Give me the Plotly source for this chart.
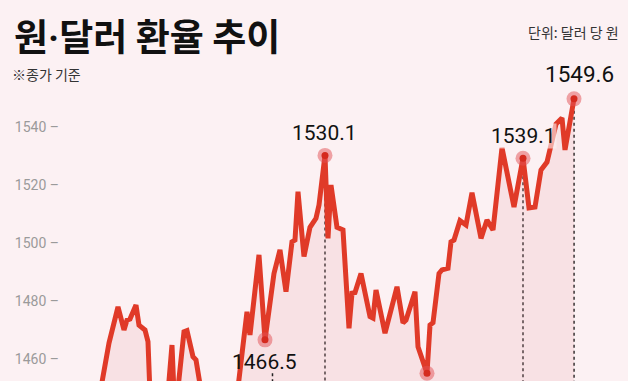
import plotly.graph_objects as go

# trading-day index and closing rate (KRW per USD)
days = [0, 3, 6, 8, 9, 10, 12, 13, 15, 16,
        17, 22, 24, 25, 28, 29, 31, 32, 34, 36,
        43, 46, 49, 50, 53, 55, 58, 60, 62, 64,
        65, 66, 68, 70, 72, 73, 75, 76, 77, 79,
        81, 83, 84, 85, 87, 90, 91, 92, 95, 99,
        101, 102, 105, 106, 109, 110, 111, 113, 114, 116,
        117, 118, 120, 122, 124, 127, 129, 131, 134, 138,
        141, 143, 145, 147, 149, 152, 154, 155, 158]
rates = [1448.0, 1465.4, 1477.9, 1469.9, 1473.3, 1473.7, 1478.5, 1471.6, 1469.9, 1465.9,
         1439.0, 1440.0, 1464.7, 1440.0, 1469.3, 1469.7, 1460.7, 1459.6, 1447.0, 1440.0,
         1445.0, 1450.0, 1476.2, 1468.2, 1495.8, 1466.5, 1489.4, 1497.5, 1483.1, 1500.3,
         1500.9, 1517.6, 1495.2, 1505.3, 1508.4, 1513.0, 1530.1, 1501.5, 1519.9, 1505.3,
         1504.4, 1470.5, 1482.6, 1482.8, 1489.4, 1474.5, 1474.0, 1483.7, 1468.8, 1484.8,
         1472.4, 1473.3, 1483.1, 1464.1, 1455.0, 1471.6, 1472.4, 1489.4, 1490.6, 1491.2,
         1500.3, 1500.9, 1507.6, 1506.1, 1517.2, 1501.5, 1507.8, 1504.4, 1532.7, 1512.3,
         1529.1, 1512.0, 1512.3, 1525.1, 1527.8, 1540.9, 1543.0, 1532.0, 1549.6]

# highlighted points
mark_days = [55, 75, 109, 141, 158]
label_days = [55, 75, 141, 158]
label_texts = ["1466.5", "1530.1", "1539.1", "1549.6"]
label_below = [True, False, False, False]
label_sizes = [21, 21, 21, 22.5]

tick_vals = [1460, 1480, 1500, 1520, 1540]
tick_text = ["1460 –", "1480 –", "1500 –", "1520 –", "1540 –"]

title_parts = ["원", "·", "달러 환율 추이"]
subtitle_text = "※종가 기준"
unit_text = "단위: 달러 당 원"

BG = "#fcf1f3"
RED = "#e03a28"
NUM = "Roboto, sans-serif"
KR = "Noto Sans CJK KR, sans-serif"

W, H = 628, 381
Y_RANGE = [1452.31, 1583.69]
X_RANGE = [-13.33, 176]
X_LEFT = 60

val = dict(zip(days, rates))

fig = go.Figure()
fig.add_trace(go.Scatter(
    x=days, y=rates, mode="lines",
    line=dict(color=RED, width=5),
    fill="tozeroy", fillcolor="rgba(238,170,178,0.22)",
    hoverinfo="skip", showlegend=False,
))
fig.add_trace(go.Scatter(
    x=mark_days, y=[val[d] for d in mark_days], mode="markers",
    marker=dict(size=15, color="rgba(226,80,84,0.5)", line=dict(width=0)),
    hoverinfo="skip", showlegend=False,
))
fig.add_trace(go.Scatter(
    x=mark_days, y=[val[d] for d in mark_days], mode="markers",
    marker=dict(size=7, color="#d52a1f", line=dict(width=0)),
    hoverinfo="skip", showlegend=False,
))

annotations = []
shapes = []
for d, t, below, sz in zip(label_days, label_texts, label_below, label_sizes):
    v = val[d]
    annotations.append(dict(
        x=d, y=v, xref="x", yref="y", text=t, showarrow=False,
        font=dict(family=NUM, size=sz, color="#111"),
        xanchor="center", yanchor="middle",
        yshift=-22 if below else (25 if sz > 21 else 22),
        xshift=5 if sz > 21 else 0,
        bgcolor="rgba(252,241,243,0.6)" if t == "1539.1" else None,
        borderpad=0,
    ))
    if below:
        shapes.append(dict(type="line", xref="x", yref="y",
                           x0=d + 2.5, x1=d + 2.5, y0=v - 11.5, y1=Y_RANGE[0],
                           line=dict(color="#222", width=1.5, dash="dot")))
    else:
        shapes.append(dict(type="line", xref="x", yref="y",
                           x0=d, x1=d, y0=v, y1=Y_RANGE[0],
                           line=dict(color="#222", width=1.5, dash="dot"), layer="below"))

title_html = (f'<b>{title_parts[0]}<span style="font-family:Roboto">{title_parts[1]}</span>'
              f'{title_parts[2]}</b>')
annotations += [
    dict(x=12 / W, y=1 - 6 / H, xref="paper", yref="paper", text=title_html,
         showarrow=False, xanchor="left", yanchor="top",
         font=dict(family=KR, size=37, color="#111")),
    dict(x=10 / W, y=1 - 62 / H, xref="paper", yref="paper", text=subtitle_text,
         showarrow=False, xanchor="left", yanchor="top",
         font=dict(family=KR, size=14, color="#333")),
    dict(x=621 / W, y=1 - 20 / H, xref="paper", yref="paper", text=unit_text,
         showarrow=False, xanchor="right", yanchor="top",
         font=dict(family=KR, size=14, color="#333")),
]

fig.update_layout(
    width=W, height=H,
    margin=dict(l=0, r=0, t=0, b=0),
    paper_bgcolor=BG, plot_bgcolor=BG,
    annotations=annotations, shapes=shapes,
    xaxis=dict(domain=[X_LEFT / W, 1], range=X_RANGE, visible=False, fixedrange=True),
    yaxis=dict(range=Y_RANGE, tickvals=tick_vals, ticktext=tick_text,
               ticks="", ticklabelstandoff=0,
               tickfont=dict(family=NUM, size=14, color="#9a9a9a"),
               showgrid=False, zeroline=False, showline=False,
               automargin=False, fixedrange=True),
    showlegend=False,
)

fig.write_html("out.html")
